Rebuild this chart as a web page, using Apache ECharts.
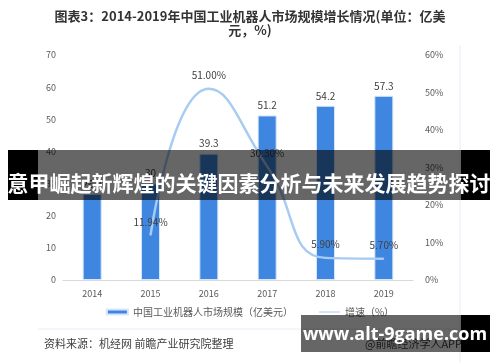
<!DOCTYPE html>
<html><head><meta charset="utf-8">
<script src="https://cdn.jsdelivr.net/npm/echarts@6/dist/echarts.min.js"></script>
<style>html,body{margin:0;padding:0;background:#fff}#c{width:500px;height:362px}</style>
</head><body><div id="c"></div>
<script>
const years = ['2014','2015','2016','2017','2018','2019'];
const marketSize = [26.8, 30, 39.3, 51.2, 54.2, 57.3];
const growth = [null, 11.94, 51.00, 30.30, 5.90, 5.70];
const growthLabels = ['', '11.94%', '51.00%', '30.30%', '5.90%', '5.70%'];
const leftTicks = [0, 70, 10];
const rightTicks = [0, 60, 10];
const titleText = '图表3：2014-2019年中国工业机器人市场规模增长情况(单位：亿美\n元，%)';
const sourceText = '资料来源：机经网 前瞻产业研究院整理';
const appText = '@前瞻经济学人APP';
const bannerText = '意甲崛起新辉煌的关键因素分析与未来发展趋势探讨';
const siteText = 'www.alt-9game.com';

const font = '"Noto Sans CJK SC", "Noto Sans", sans-serif';
const chart = echarts.init(document.getElementById('c'));
chart.setOption({
  animation: false,
  textStyle: {fontFamily: font},
  grid: {left: 63, right: 87, top: 55, bottom: 82},
  legend: {
    bottom: 40, left: 'center', itemGap: 26, itemWidth: 21, itemHeight: 5,
    textStyle: {fontSize: 10, color: '#595959'},
    data: [
      {name: '中国工业机器人市场规模（亿美元）', icon: 'rect'},
      {name: '增速（%）', icon: 'path://M0,2 L21,2 L21,3 L0,3 Z'}
    ]
  },
  xAxis: {
    type: 'category', data: years,
    axisLine: {lineStyle: {color: '#D9D9D9'}},
    axisTick: {show: false},
    axisLabel: {color: '#595959', fontSize: 9, margin: 9}
  },
  yAxis: [
    {type: 'value', min: leftTicks[0], max: leftTicks[1], interval: leftTicks[2],
     splitLine: {show: false}, axisLine: {show: false}, axisTick: {show: false},
     axisLabel: {color: '#595959', fontSize: 9, margin: 7}},
    {type: 'value', min: rightTicks[0], max: rightTicks[1], interval: rightTicks[2],
     splitLine: {show: false}, axisLine: {show: false}, axisTick: {show: false},
     axisLabel: {color: '#595959', fontSize: 9, margin: 12, formatter: '{value}%'}}
  ],
  series: [
    {name: '中国工业机器人市场规模（亿美元）', type: 'bar', data: marketSize, barWidth: 19,
     itemStyle: {color: '#3E86E0', borderColor: '#D6E6FA', borderWidth: 1},
     label: {show: true, position: 'top', color: '#404040', fontSize: 10, distance: 5}},
    {name: '增速（%）', type: 'line', yAxisIndex: 1, data: growth, smooth: 0.5,
     showSymbol: true, symbol: 'circle', symbolSize: 1, connectNulls: false,
     lineStyle: {color: '#A8CBF2', width: 2.5},
     itemStyle: {color: '#A8CBF2'},
     label: {show: true, position: 'top', distance: 8, color: '#404040', fontSize: 10,
       formatter: p => growthLabels[p.dataIndex]}}
  ],
  graphic: [
    {type: 'text', x: 250, y: 9, style: {text: titleText, fontSize: 13, fontWeight: 'bold', fill: '#333', align: 'center', lineHeight: 14, fontFamily: font}},
    {type: 'line', shape: {x1: 460, y1: 45, x2: 460, y2: 362}, style: {stroke: '#E6ECF4', lineWidth: 1}},
    {type: 'line', shape: {x1: 38, y1: 329, x2: 460, y2: 329}, style: {stroke: '#E6ECF4', lineWidth: 1}},
    {type: 'text', left: 44, top: 338, style: {text: sourceText, fontSize: 11, fill: '#404040', fontFamily: font}},
    {type: 'text', left: 365, top: 338, style: {text: appText, fontSize: 11, fill: '#404040', fontFamily: font}},
    {type: 'rect', z: 100, shape: {x: 8, y: 150, width: 30, height: 50}, style: {fill: '#000'}},
    {type: 'rect', z: 100, shape: {x: 38, y: 150, width: 423, height: 50}, style: {fill: 'rgba(0,0,0,0.6)'}},
    {type: 'rect', z: 100, shape: {x: 461, y: 150, width: 29, height: 50}, style: {fill: '#000'}},
    {type: 'text', z: 101, x: 249, y: 183, style: {text: bannerText, fontSize: 21, fontWeight: 'bold', fill: '#fff', align: 'center', verticalAlign: 'middle', fontFamily: font}},
    {type: 'rect', z: 100, shape: {x: 301, y: 315, width: 160, height: 37}, style: {fill: 'rgba(0,0,0,0.6)'}},
    {type: 'rect', z: 100, shape: {x: 461, y: 315, width: 29, height: 37}, style: {fill: '#000'}},
    {type: 'text', z: 101, x: 395, y: 335, style: {text: siteText, fontSize: 18, fontWeight: 'bold', fill: '#fff', align: 'center', verticalAlign: 'middle', fontFamily: '"Open Sans", "DejaVu Sans", sans-serif'}}
  ]
});
</script></body></html>
